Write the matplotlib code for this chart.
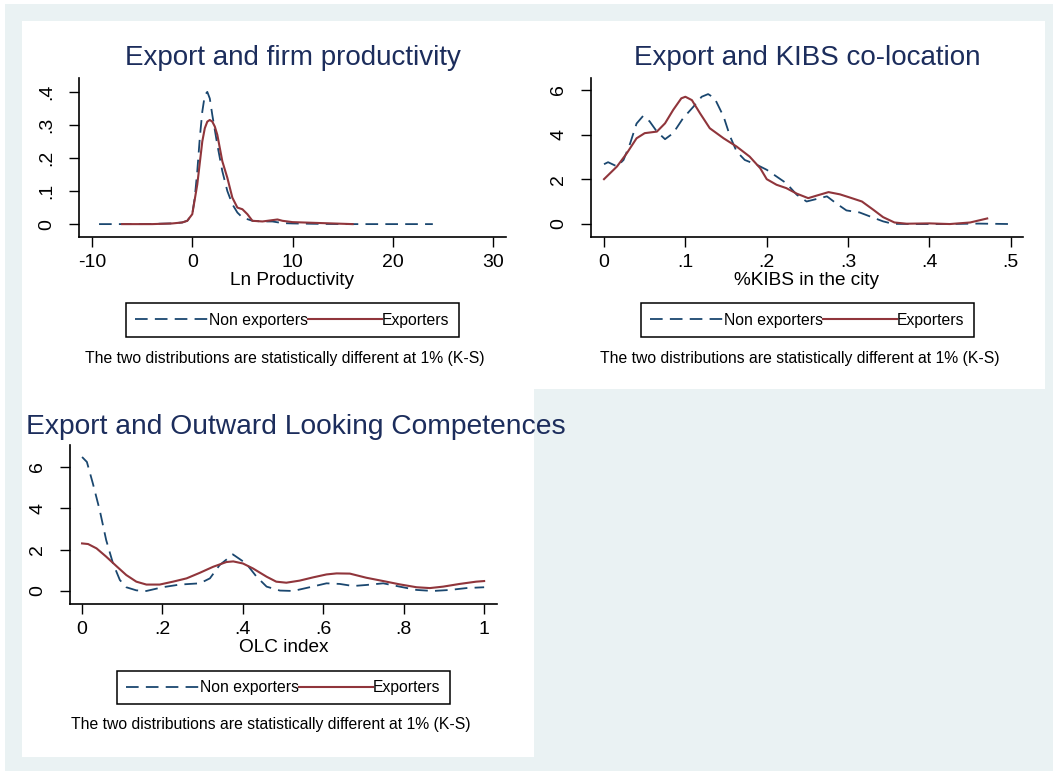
import matplotlib
matplotlib.use("Agg")
import matplotlib.pyplot as plt
from matplotlib.patches import Rectangle
from matplotlib.lines import Line2D

plt.rcParams["font.family"] = ["Liberation Sans", "DejaVu Sans"]

W, H = 1053, 771
NAVY = "#1a476f"
MAROON = "#90353b"
TITLE_C = "#1c2d5c"
BG = "#eaf2f3"

# Panel 1: Ln Productivity
prod_non_x = [-9.3, -5, -2, -1, -0.5, 0, 0.25, 0.5, 0.75, 1.0, 1.25, 1.5, 1.75, 2.0,
              2.5, 3, 3.5, 4, 4.5, 5, 6, 7, 8, 9, 10, 12, 15, 20, 24]
prod_non_y = [0, 0, 0.002, 0.005, 0.01, 0.03, 0.08, 0.16, 0.26, 0.34, 0.39, 0.40,
              0.38, 0.33, 0.24, 0.16, 0.10, 0.06, 0.035, 0.02, 0.01, 0.008, 0.008,
              0.003, 0.002, 0.001, 0, 0, 0]
prod_exp_x = [-7, -4, -2, -1, -0.5, 0, 0.5, 1.0, 1.25, 1.5, 1.75, 2.0, 2.25, 2.5, 3,
              3.5, 4, 4.5, 5, 5.5, 6, 7, 8, 8.5, 9, 10, 12, 14, 16]
prod_exp_y = [0, 0, 0.002, 0.005, 0.01, 0.03, 0.12, 0.25, 0.29, 0.31, 0.315, 0.31,
              0.295, 0.27, 0.19, 0.14, 0.08, 0.05, 0.045, 0.03, 0.01, 0.008, 0.012,
              0.014, 0.01, 0.006, 0.004, 0.002, 0]

# Panel 2: %KIBS in the city
kibs_non_x = [0, 0.005, 0.016, 0.024, 0.032, 0.04, 0.048, 0.056, 0.065, 0.075, 0.085,
              0.097, 0.11, 0.12, 0.128, 0.136, 0.147, 0.155, 0.163, 0.173, 0.188, 0.2,
              0.212, 0.224, 0.237, 0.249, 0.261, 0.274, 0.286, 0.298, 0.314, 0.327,
              0.343, 0.355, 0.38, 0.42, 0.46, 0.5]
kibs_non_y = [2.68, 2.77, 2.58, 2.87, 3.6, 4.5, 4.84, 4.6, 4.14, 3.8, 4.07, 4.73, 5.26,
              5.7, 5.82, 5.63, 4.81, 3.92, 3.25, 2.87, 2.65, 2.43, 2.13, 1.83, 1.31,
              1.01, 1.12, 1.24, 0.91, 0.61, 0.52, 0.34, 0.12, 0.01, 0, 0, 0.02, 0]
kibs_exp_x = [0, 0.016, 0.028, 0.04, 0.05, 0.065, 0.075, 0.085, 0.095, 0.1, 0.108,
              0.118, 0.13, 0.147, 0.163, 0.179, 0.192, 0.2, 0.212, 0.224, 0.237, 0.251,
              0.261, 0.276, 0.29, 0.302, 0.317, 0.331, 0.343, 0.357, 0.372, 0.4, 0.425,
              0.45, 0.464, 0.471]
kibs_exp_y = [2.01, 2.58, 3.17, 3.84, 4.07, 4.14, 4.51, 5.11, 5.63, 5.7, 5.55, 4.96,
              4.29, 3.84, 3.47, 3.02, 2.5, 2.01, 1.76, 1.61, 1.36, 1.16, 1.27, 1.43,
              1.33, 1.19, 1.01, 0.64, 0.31, 0.07, 0.015, 0.03, 0.0, 0.07, 0.19, 0.25]

# Panel 3: OLC index
olc_non_x = [0, 0.012, 0.027, 0.044, 0.06, 0.077, 0.094, 0.11, 0.135, 0.16, 0.2, 0.243,
             0.293, 0.318, 0.342, 0.375, 0.408, 0.434, 0.459, 0.492, 0.525, 0.566,
             0.608, 0.641, 0.674, 0.707, 0.749, 0.79, 0.832, 0.873, 0.915, 0.956, 1.0]
olc_non_y = [6.48, 6.24, 5.19, 3.9, 2.46, 1.33, 0.53, 0.18, 0.03, 0, 0.18, 0.31, 0.37,
             0.61, 1.25, 1.77, 1.33, 0.69, 0.21, 0.02, 0, 0.18, 0.37, 0.34, 0.24, 0.29,
             0.37, 0.21, 0.05, 0, 0.05, 0.14, 0.18]
olc_exp_x = [0, 0.015, 0.036, 0.06, 0.085, 0.11, 0.135, 0.16, 0.193, 0.226, 0.26, 0.293,
             0.326, 0.359, 0.376, 0.4, 0.425, 0.459, 0.483, 0.508, 0.541, 0.575, 0.608,
             0.633, 0.666, 0.707, 0.749, 0.79, 0.832, 0.865, 0.898, 0.939, 0.98, 1.0]
olc_exp_y = [2.3, 2.27, 2.06, 1.66, 1.21, 0.77, 0.45, 0.31, 0.31, 0.45, 0.61, 0.88,
             1.17, 1.4, 1.43, 1.33, 1.09, 0.69, 0.45, 0.4, 0.5, 0.66, 0.8, 0.85, 0.84,
             0.64, 0.48, 0.32, 0.18, 0.14, 0.21, 0.34, 0.45, 0.48]

NOTE = "The two distributions are statistically different at 1% (K-S)"


def px_rect(x0, y0, x1, y1):
    return [x0 / W, 1 - y1 / H, (x1 - x0) / W, (y1 - y0) / H]


fig = plt.figure(figsize=(W / 100, H / 100), dpi=100)
fig.patch.set_facecolor("white")
for (x0, y0, x1, y1, c) in [(5, 4, W, H, BG), (21.5, 21.5, 1045, 389, "white"),
                            (21.5, 388, 534, 757, "white")]:
    fig.add_artist(Rectangle((x0 / W, 1 - y1 / H), (x1 - x0) / W, (y1 - y0) / H,
                             transform=fig.transFigure, facecolor=c, edgecolor="none",
                             zorder=0))


def panel(rect, xn, yn, xe, ye, xlim, ylim, xticks, xtl, yticks, ytl, xlabel):
    ax = fig.add_axes(px_rect(*rect))
    ax.set_facecolor("white")
    ax.plot(xn, yn, color=NAVY, lw=1.3, dashes=(7, 4))
    ax.plot(xe, ye, color=MAROON, lw=1.5)
    ax.set_xlim(*xlim)
    ax.set_ylim(*ylim)
    ax.set_xticks(xticks)
    ax.set_xticklabels(xtl)
    ax.set_yticks(yticks)
    ax.set_yticklabels(ytl, rotation=90, va="center")
    for s in ("top", "right"):
        ax.spines[s].set_visible(False)
    for s in ("left", "bottom"):
        ax.spines[s].set_linewidth(1.2)
        ax.spines[s].set_color("black")
    ax.tick_params(axis="both", direction="out", length=7, width=1.0,
                   labelsize=14, pad=5)
    ax.tick_params(axis="y", pad=10)
    ax.set_xlabel(xlabel, fontsize=13.7, labelpad=1)
    return ax


def legend(cx, cy):
    handles = [Line2D([], [], color=NAVY, lw=1.3, dashes=(7, 4)),
               Line2D([], [], color=MAROON, lw=1.5)]
    leg = fig.legend(handles, ["Non exporters", "Exporters"], ncol=2, loc="center",
                     bbox_to_anchor=(cx / W, 1 - cy / H), fontsize=11.3,
                     handlelength=4.7, handletextpad=0.0, columnspacing=0.0,
                     borderpad=0.6, fancybox=False, framealpha=1)
    leg.get_frame().set_edgecolor("black")
    leg.get_frame().set_linewidth(1.1)


panel((79, 78, 506, 237), prod_non_x, prod_non_y, prod_exp_x, prod_exp_y,
      (-11.3, 31.3), (-0.039, 0.442), [-10, 0, 10, 20, 30],
      ["-10", "0", "10", "20", "30"], [0, 0.1, 0.2, 0.3, 0.4],
      ["0", ".1", ".2", ".3", ".4"], "Ln Productivity")
panel((591, 78, 1023, 237), kibs_non_x, kibs_non_y, kibs_exp_x, kibs_exp_y,
      (-0.016, 0.515), (-0.58, 6.54), [0, 0.1, 0.2, 0.3, 0.4, 0.5],
      ["0", ".1", ".2", ".3", ".4", ".5"], [0, 2, 4, 6], ["0", "2", "4", "6"],
      "%KIBS in the city")
panel((70, 445, 497, 604), olc_non_x, olc_non_y, olc_exp_x, olc_exp_y,
      (-0.03, 1.032), (-0.63, 7.06), [0, 0.2, 0.4, 0.6, 0.8, 1.0],
      ["0", ".2", ".4", ".6", ".8", "1"], [0, 2, 4, 6], ["0", "2", "4", "6"],
      "OLC index")

fig.text(292.5 / W, 1 - 58 / H, "Export and firm productivity", fontsize=20,
         color=TITLE_C, ha="center", va="center")
fig.text(807 / W, 1 - 58 / H, "Export and KIBS co-location", fontsize=20,
         color=TITLE_C, ha="center", va="center")
fig.text(26 / W, 1 - 427 / H, "Export and Outward Looking Competences", fontsize=20.3,
         color=TITLE_C, ha="left", va="center")

legend(292.5, 320)
legend(807.5, 320)
legend(283.5, 687.5)

fig.text(284.5 / W, 1 - 358 / H, NOTE, fontsize=11.3, ha="center", va="center")
fig.text(799.5 / W, 1 - 358 / H, NOTE, fontsize=11.3, ha="center", va="center")
fig.text(270.5 / W, 1 - 724 / H, NOTE, fontsize=11.3, ha="center", va="center")

fig.savefig("out.png", dpi=100)
